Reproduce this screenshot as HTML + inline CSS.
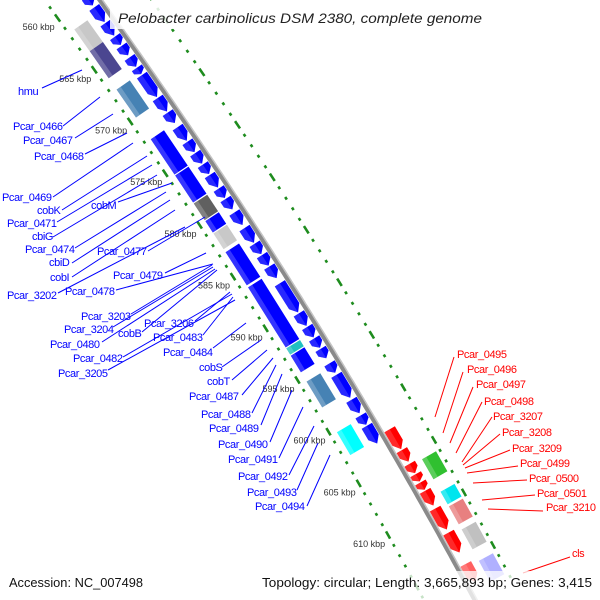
<!DOCTYPE html>
<html><head><meta charset="utf-8"><style>
html,body{margin:0;padding:0;background:#fff;}
svg{display:block;}
text{font-family:"Liberation Sans",sans-serif;}
</style></head><body>
<svg id="map" width="600" height="600" viewBox="0 0 600 600" xmlns="http://www.w3.org/2000/svg">
<g id="features"></g>
<g id="ticks"></g>
<g id="labels"></g>
<rect x="0" y="571" width="600" height="29" fill="#fff" opacity="0.75"/>
<rect x="110" y="3" width="380" height="26" fill="#fff" opacity="0.85"/>
<text x="118" y="23" font-size="14" font-style="italic" fill="#222" textLength="364" lengthAdjust="spacingAndGlyphs">Pelobacter carbinolicus DSM 2380, complete genome</text>
<text x="9" y="587" font-size="13" fill="#111" textLength="134" lengthAdjust="spacingAndGlyphs">Accession: NC_007498</text>
<text x="262" y="587" font-size="13" fill="#111" textLength="330" lengthAdjust="spacingAndGlyphs">Topology: circular; Length: 3,665,893 bp; Genes: 3,415</text>
</svg>
<script>
// ring 1 (reverse strand, left) gene arrows, kbp
const leftArrowStart = [558.2,559.2,560.0,561.0,562.5,563.8,564.7,565.8,566.8,567.5,569.7,571.1,572.5,573.9,575.0,576.1,577.1,578.4,579.4,580.7,582.2,583.7,584.8,585.9,587.5,590.4,591.7,592.8,593.8,595.2,596.3,598.7,600.2,601.2];
const leftArrowEnd   = [559.1,559.9,560.8,562.4,563.7,564.6,565.6,566.7,567.4,569.6,571.0,572.1,573.8,574.9,576.0,577.0,578.3,579.3,580.4,581.9,583.6,584.7,585.8,587.0,590.3,591.6,592.7,593.7,594.7,596.1,598.5,600.0,601.1,602.9];
// ring 2 (left) coloured boxes
const leftBoxStart = [561.5,563.6,567.3,572.1,575.6,578.3,580.0,581.2,583.0,586.4,592.3,593.0,595.5,600.4];
const leftBoxEnd   = [563.6,566.2,570.0,575.5,578.2,579.9,581.1,582.7,586.2,592.2,592.9,594.6,598.0,602.6];
const leftBoxColor = ["#c8c8c8","#4b4690","#4682b4","#0000ff","#0000ff","#606060","#0000ff","#c8c8c8","#0000ff","#0000ff","#20c0c0","#0000ff","#4682b4","#00ffff"];
// ring 1 (forward strand, right) red arrows
const rightArrowStart = [602.4,604.4,605.7,606.7,607.5,608.3,610.0,612.3,615.3];
const rightArrowEnd   = [604.3,605.5,606.6,607.4,608.2,609.7,612.0,614.2,617.0];
const rightArrowColor = ["#ff0000","#ff0000","#ff0000","#ff0000","#ff0000","#ff0000","#ff0000","#ff0000","#ff6060"];
// ring 2 (right) boxes
const rightBoxStart = [605.9,609.0,610.4,612.6,615.6];
const rightBoxEnd   = [607.8,610.2,612.1,614.5,617.6];
const rightBoxColor = ["#30c030","#00e5ee","#e88080","#c0c0c0","#b0b0ff"];
// tick range
const tickFrom = 557, tickTo = 618;
const majorLabels = ["560 kbp","565 kbp","570 kbp","575 kbp","580 kbp","585 kbp","590 kbp","595 kbp","600 kbp","605 kbp","610 kbp"];
const majorKbp = [560,565,570,575,580,585,590,595,600,605,610];

// blue labels: text, x, y(centre), line x1,y1,x2,y2
const blueLabels = [
["hmu",18,91,42,88,82,70],["Pcar_0466",13,126,63,126,100,97],["Pcar_0467",23,140,75,138,113,114],
["Pcar_0468",34,156,85,154,127,133],["Pcar_0469",2,197,53,197,133,143],["cobK",37,210,62,210,147,156],
["Pcar_0471",7,223,57,222,152,165],["cbiG",32,236,53,237,157,175],["Pcar_0474",25,249,75,248,166,192],
["cbiD",49,262,72,263,170,200],["cobI",50,277,72,277,175,210],["Pcar_3202",7,295,58,293,185,227],
["cobM",91,205,118,202,172,183],["Pcar_0477",97,251,148,251,205,217],["Pcar_0479",113,275,165,273,206,253],
["Pcar_0478",65,291,116,290,213,264],["Pcar_3203",81,316,131,314,212,265],["Pcar_3204",64,329,113,327,213,267],
["cobB",118,333,142,332,217,270],["Pcar_0480",50,344,102,342,215,269],["Pcar_3206",144,323,195,321,230,292],
["Pcar_0483",153,337,203,335,233,297],["Pcar_0484",163,352,213,348,246,323],["Pcar_0482",73,358,123,357,232,294],
["Pcar_3205",58,373,108,370,235,300],["cobS",199,367,222,367,261,340],["cobT",207,381,232,380,267,350],
["Pcar_0487",189,396,242,395,273,358],["Pcar_0488",201,414,252,413,276,365],["Pcar_0489",209,428,261,425,282,374],
["Pcar_0490",218,444,270,442,292,390],["Pcar_0491",228,459,279,458,303,407],["Pcar_0492",238,476,289,475,314,426],
["Pcar_0493",247,492,297,490,318,443],["Pcar_0494",255,506,307,506,330,455]];
const redLabels = [
["Pcar_0495",457,354,454,357,435,417],["Pcar_0496",467,369,463,372,443,433],["Pcar_0497",476,384,473,387,450,443],
["Pcar_0498",484,401,482,402,456,453],["Pcar_3207",493,416,492,417,462,462],["Pcar_3208",502,432,500,434,463,465],
["Pcar_3209",512,448,510,450,465,468],["Pcar_0499",520,463,518,466,467,473],["Pcar_0500",529,478,527,480,473,483],
["Pcar_0501",537,493,535,495,482,500],["Pcar_3210",546,507,543,511,488,509],["cls",572,553,570,557,523,573]];

const NS="http://www.w3.org/2000/svg";
const yb = k => -8.2 + (k-560)*10.424;
const bx = y => 100 + 0.715*y - 0.00015*y*y;
function pt(k,n){const y=yb(k),x=bx(y),s=0.715-0.0003*y,m=Math.hypot(1,s);return [x+n/m, y-n*s/m];}
function mk(tag,attrs,parent){const e=document.createElementNS(NS,tag);for(const a in attrs)e.setAttribute(a,attrs[a]);parent.appendChild(e);return e;}
const F=document.getElementById('features'),T=document.getElementById('ticks'),L=document.getElementById('labels');
function ps(a){return a.map(p=>p[0].toFixed(1)+','+p[1].toFixed(1)).join(' ');}
function lighten(c){const v=parseInt(c.slice(1),16);let r=v>>16,g=(v>>8)&255,b=v&255;r=Math.round(r+(255-r)*0.35);g=Math.round(g+(255-g)*0.35);b=Math.round(b+(255-b)*0.35);return 'rgb('+r+','+g+','+b+')';}

// backbone
(function(){const pts=[];for(let k=555;k<=619;k+=0.5){pts.push(pt(k,0));}
const bb=mk('polyline',{points:ps(pts),fill:'none',stroke:'#8a8a8a','stroke-width':5},F);

const pts2=[];for(let k=555;k<=619;k+=0.5){pts2.push(pt(k,2));}
const hl=mk('polyline',{points:ps(pts2),fill:'none',stroke:'#c4c4c4','stroke-width':1.5},F);
})();

function arrow(k1,k2,n1,n2,color,name){
  const h=Math.min(0.6,(k2-k1)*0.5),nm=(n1+n2)/2;
  const p=[pt(k1,n1),pt(k2-h,n1),pt(k2,nm),pt(k2-h,n2),pt(k1,n2)];
  const e=mk('polygon',{points:ps(p),fill:color},F);
  
  const q=[pt(k1,n1),pt(k2-h,n1),pt(k2,nm),pt(k1,nm)];
  const e2=mk('polygon',{points:ps(q),fill:lighten(color),opacity:0.45},F);
  
}
function box(k1,k2,n1,n2,color,name){
  const p=[pt(k1,n1),pt(k2,n1),pt(k2,n2),pt(k1,n2)];
  const e=mk('polygon',{points:ps(p),fill:color},F);
  
  const nn=n1+(n2-n1)*0.3;
  const q=[pt(k1,n1),pt(k2,n1),pt(k2,nn),pt(k1,nn)];
  const e2=mk('polygon',{points:ps(q),fill:lighten(color),opacity:0.6},F);
  
}
leftArrowStart.forEach((s,i)=>arrow(s,leftArrowEnd[i],-15,-3,'#0000ff','gene-left-'+i));
leftBoxStart.forEach((s,i)=>box(s,leftBoxEnd[i],-38,-22,leftBoxColor[i],'feature-left-'+i));
rightArrowStart.forEach((s,i)=>arrow(s,rightArrowEnd[i],3,15,rightArrowColor[i],'gene-right-'+i));
rightBoxStart.forEach((s,i)=>box(s,rightBoxEnd[i],22,38,rightBoxColor[i],'feature-right-'+i));

// tick dots
for(let k=tickFrom;k<=tickTo;k++){
  const major=(k%5===0),half=major?0.35:0.12;
  [-45,42].forEach(n=>{
    const a=pt(k-half,n),b=pt(k+half,n);
    const e=mk('line',{x1:a[0],y1:a[1],x2:b[0],y2:b[1],stroke:'#1e8c1e','stroke-width':2.6},T);
    
  });
}
majorKbp.forEach((k,i)=>{const p=pt(k,-45);
  const t=mk('text',{x:(p[0]-3).toFixed(1),y:(p[1]+12).toFixed(1),'text-anchor':'end','font-size':9,fill:'#333'},T);
  t.textContent=majorLabels[i];
  });

function labels(arr,color,side){arr.forEach(d=>{
  const ln=mk('line',{x1:d[3],y1:d[4],x2:d[5],y2:d[6],stroke:color,'stroke-width':1},L);
  
  const t=mk('text',{x:d[1],y:d[2]+4,'font-size':11,'letter-spacing':'-0.4',fill:color},L);
  t.textContent=d[0];
  });}
labels(blueLabels,'#0000ff');
labels(redLabels,'#ff0000');
</script>
</body></html>
